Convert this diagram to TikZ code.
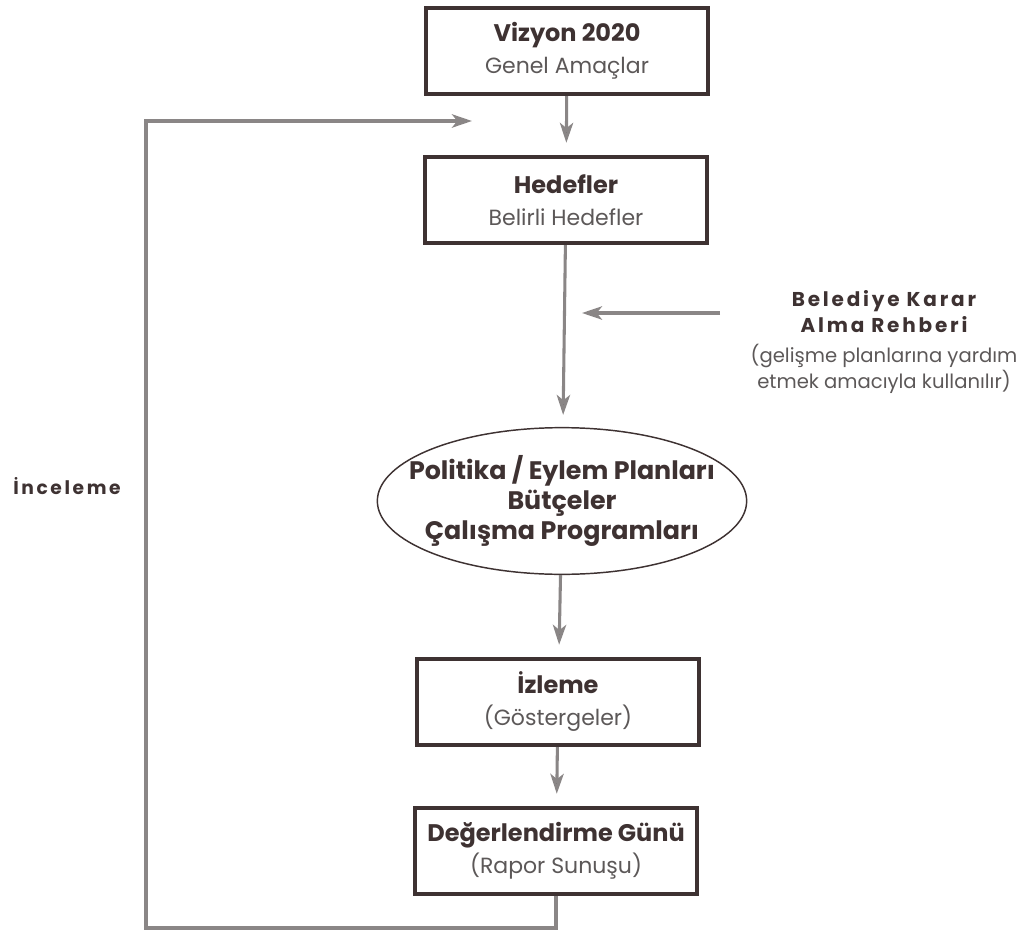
\documentclass[tikz,border=0pt]{standalone}
\usepackage{fontspec}
\setmainfont{Poppins}
\newfontfamily\spacedfont[LetterSpace=14]{Poppins}
\usetikzlibrary{arrows.meta,shapes.geometric}
\definecolor{ink}{HTML}{3E3232}
\definecolor{soft}{HTML}{5C5858}
\definecolor{trail}{HTML}{8A8686}
\tikzset{
  >={Stealth[length=15pt,width=10pt,inset=4pt]},
  stage/.style = {rectangle, draw=ink, line width=2.8pt, align=center,
                  minimum width=212pt, minimum height=65pt, inner sep=0pt,
                  font=\fontsize{16.5}{24}\selectfont},
  plan/.style = {ellipse, draw=ink, line width=1.1pt, align=center,
                 minimum width=277pt, minimum height=110pt, inner sep=-40pt,
                 text=ink, font=\bfseries\fontsize{19}{22.5}\selectfont},
  flow/.style = {draw=trail, line width=2.3pt, ->, shorten >=9pt},
  feedback/.style = {draw=trail, line width=2.6pt, ->},
  note/.style = {align=center, text=soft, font=\fontsize{14.7}{19}\selectfont},
}
\newcommand\head[1]{\textcolor{ink}{\bfseries\fontsize{18}{24}\selectfont #1}}
\begin{document}
\begin{tikzpicture}[x=0.75pt,y=-0.75pt]
\useasboundingbox (0,0) rectangle (1022,935);
\node[stage] (viz) at (567,51) {\head{Vizyon 2020}\\
                                \textcolor{soft}{Genel Amaçlar}};
\node[stage] (hed) at (566,200) {\head{Hedefler}\\
                                 \textcolor{soft}{Belirli Hedefler}};
\node[plan] (pol) at (562,501) {Politika / Eylem Planları\\Bütçeler\\
                                Çalışma Programları};
\node[stage] (izl) at (558,702) {\head{İzleme}\\
                                 \textcolor{soft}{(Göstergeler)}};
\node[stage] (deg) at (556,851) {\head{Değerlendirme Günü}\\
                                 \textcolor{soft}{(Rapor Sunuşu)}};
\node[note] (reh) at (884,342) {\textcolor{ink}{\spacedfont\bfseries\fontsize{15}{19}\selectfont Belediye Karar}\\
                                \textcolor{ink}{\spacedfont\bfseries\fontsize{15}{19}\selectfont Alma Rehberi}\\[4pt]
                                (gelişme planlarına yardım\\etmek amacıyla kullanılır)};
\node[text=ink, font=\spacedfont\bfseries\fontsize{14}{15}\selectfont]
     (inc) at (67,486) {İnceleme};
\coordinate (rehtail) at (720,313);
\coordinate (rehtip) at (582,313);
\coordinate (back) at (472,121);
\path[flow] (viz) edge (hed)
            (hed) edge (pol)
            (pol) edge (izl)
            (izl) edge (deg);
\draw[flow, shorten >=0pt] (rehtail) -- (rehtip);
\draw[feedback] (deg.south) |- (146,928) |- (back);
\end{tikzpicture}
\end{document}
